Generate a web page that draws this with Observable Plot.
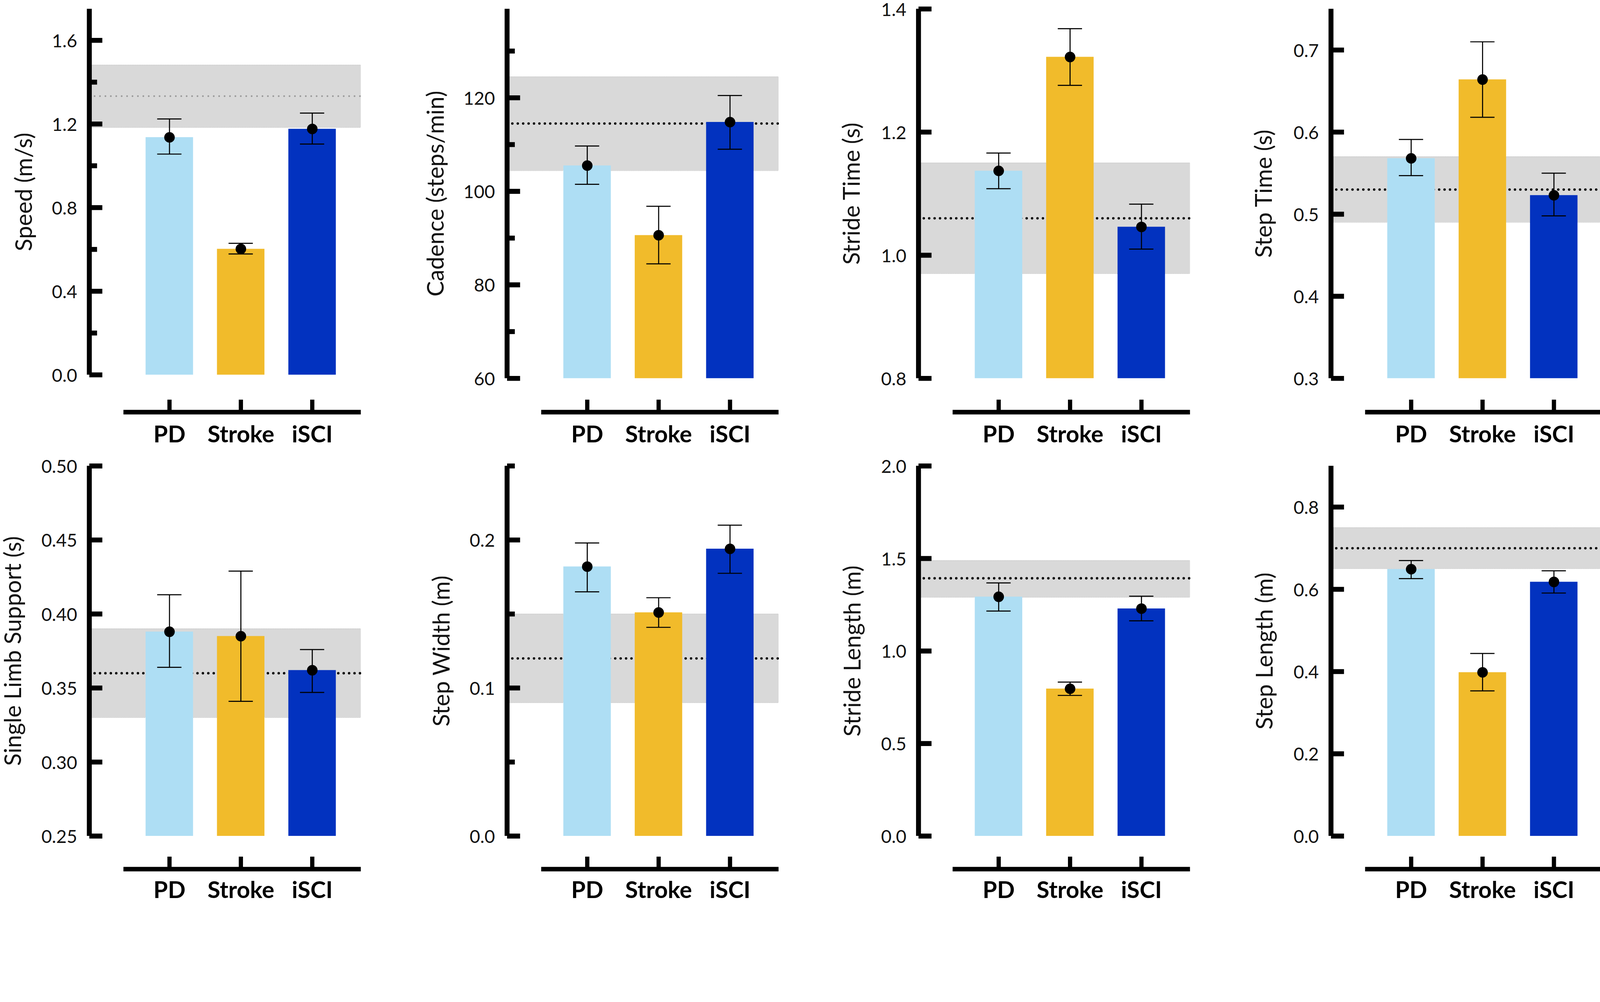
<!DOCTYPE html>
<html><head><meta charset="utf-8">
<script src="https://cdn.jsdelivr.net/npm/d3@7"></script>
<script src="https://cdn.jsdelivr.net/npm/@observablehq/plot@0.6"></script>
<style>
html,body{margin:0;padding:0;background:#fff;overflow:hidden;}
#wrap{position:relative;overflow:hidden;background:#fff;}
#c{position:absolute;left:0;top:0;width:4550px;height:2564px;overflow:hidden;background:#fff;transform-origin:0 0;}
#c svg{position:absolute;}
</style></head><body><div id="wrap"><div id="c"></div></div>
<script>
const groups = ["PD", "Stroke", "iSCI"];
const colors = ["#AEDEF4", "#F1BB2B", "#0232BF"];

// mean, lower / upper error-bar ends, normative band [lo, mean, hi]
const speedMean = [1.136, 0.602, 1.176];
const speedLo   = [1.056, 0.578, 1.104];
const speedHi   = [1.224, 0.629, 1.252];
const speedNorm = [1.183, 1.333, 1.482];

const cadenceMean = [105.5, 90.6, 114.8];
const cadenceLo   = [101.5, 84.5, 109.0];
const cadenceHi   = [109.7, 96.8, 120.5];
const cadenceNorm = [104.4, 114.5, 124.5];

const strideTimeMean = [1.137, 1.322, 1.046];
const strideTimeLo   = [1.108, 1.276, 1.010];
const strideTimeHi   = [1.166, 1.368, 1.083];
const strideTimeNorm = [0.970, 1.060, 1.150];

const stepTimeMean = [0.568, 0.664, 0.523];
const stepTimeLo   = [0.547, 0.618, 0.498];
const stepTimeHi   = [0.591, 0.710, 0.550];
const stepTimeNorm = [0.490, 0.530, 0.570];

const singleLimbMean = [0.388, 0.385, 0.362];
const singleLimbLo   = [0.364, 0.341, 0.347];
const singleLimbHi   = [0.413, 0.429, 0.376];
const singleLimbNorm = [0.330, 0.360, 0.390];

const stepWidthMean = [0.182, 0.151, 0.194];
const stepWidthLo   = [0.165, 0.141, 0.1775];
const stepWidthHi   = [0.198, 0.161, 0.210];
const stepWidthNorm = [0.090, 0.120, 0.150];

const strideLengthMean = [1.293, 0.796, 1.229];
const strideLengthLo   = [1.216, 0.760, 1.163];
const strideLengthHi   = [1.368, 0.832, 1.296];
const strideLengthNorm = [1.290, 1.393, 1.489];

const stepLengthMean = [0.649, 0.398, 0.618];
const stepLengthLo   = [0.626, 0.353, 0.591];
const stepLengthHi   = [0.670, 0.444, 0.645];
const stepLengthNorm = [0.650, 0.700, 0.750];

const titles = ["Speed (m/s)", "Cadence (steps/min)", "Stride Time (s)", "Step Time (s)",
  "Single Limb Support (s)", "Step Width (m)", "Stride Length (m)", "Step Length (m)"];
const domains = [[0, 1.75], [60, 139], [0.8, 1.4], [0.3, 0.75], [0.25, 0.5], [0, 0.25], [0, 2.0], [0, 0.9]];
const majorTicks = [
  [0, 0.4, 0.8, 1.2, 1.6], [60, 80, 100, 120], [0.8, 1.0, 1.2, 1.4], [0.3, 0.4, 0.5, 0.6, 0.7],
  [0.25, 0.30, 0.35, 0.40, 0.45, 0.50], [0, 0.1, 0.2], [0, 0.5, 1.0, 1.5, 2.0], [0, 0.2, 0.4, 0.6, 0.8]];
const minorTicks = [[0.2, 0.6, 1.0, 1.4], [70, 90, 110, 130], [], [], [], [0.05, 0.15, 0.25], [], []];
const tickDecimals = [1, 0, 1, 1, 2, 1, 1, 1];

const means = [speedMean, cadenceMean, strideTimeMean, stepTimeMean, singleLimbMean, stepWidthMean, strideLengthMean, stepLengthMean];
const los = [speedLo, cadenceLo, strideTimeLo, stepTimeLo, singleLimbLo, stepWidthLo, strideLengthLo, stepLengthLo];
const his = [speedHi, cadenceHi, strideTimeHi, stepTimeHi, singleLimbHi, stepWidthHi, strideLengthHi, stepLengthHi];
const norms = [speedNorm, cadenceNorm, strideTimeNorm, stepTimeNorm, singleLimbNorm, stepWidthNorm, strideLengthNorm, stepLengthNorm];

// layout (pixels, in a 4550 x 2564 frame)
const axisXpos = [254, 1442, 2612, 3785];
const titleOffset = [184, 202, 188, 190, 216, 185, 186, 187];
const ML = 250, FW = 772, MR = 10, H = 1282;
const FONT = "Lato, sans-serif";

// fit font sizes to the widths of the reference texts
const ctx = document.createElement("canvas").getContext("2d");
function fitSize(text, target, weight) {
  ctx.font = `${weight} 100px Lato`;
  return 100 * target / ctx.measureText(text).width;
}
const titleSize = Math.min(72, Math.max(50, fitSize("Cadence (steps/min)", 585, "normal")));
const tickSize = Math.min(62, Math.max(46, fitSize("1.6", 72, "normal")));
const catSize = Math.min(72, Math.max(52, fitSize("Stroke", 190, "bold")));

const wrap = document.getElementById("wrap");
const container = document.getElementById("c");
const s = Math.min(window.innerWidth / 4550, window.innerHeight / 2564);
container.style.transform = `scale(${s})`;
wrap.style.width = (4550 * s) + "px";
wrap.style.height = (2564 * s) + "px";

titles.forEach((title, i) => {
  const col = i % 4, row = Math.floor(i / 4);
  const marginTop = row ? 42 : 25;
  const bottomY = row ? 2376 - 1282 : (i === 0 ? 1065 : 1075);
  const lineY = row ? 2470 - 1282 : 1171;
  const xOff = lineY - bottomY;
  const dom = domains[i];
  const data = groups.map((g, j) => ({group: g, mean: means[i][j], lo: los[i][j], hi: his[i][j]}));
  const nrm = norms[i];
  const svg = Plot.plot({
    width: ML + FW + MR, height: H,
    marginLeft: ML, marginRight: MR, marginTop, marginBottom: H - bottomY,
    style: {fontFamily: FONT, overflow: "visible", background: "transparent", color: "black", maxWidth: "none"},
    x: {type: "band", domain: groups, range: [ML + 91, ML + 770], padding: 0.3366, axis: null},
    y: {domain: dom, axis: null},
    color: {domain: groups, range: colors},
    marks: [
      Plot.rect([0], {y1: nrm[0], y2: nrm[2], fill: "#D9D9D9"}),
      Plot.ruleY([nrm[0], nrm[2]], {stroke: "#b8b8b8", strokeWidth: 1.5, strokeDasharray: "2,2"}),
      Plot.ruleY([nrm[1]], {stroke: i === 0 ? "#9a9a9a" : "black", strokeWidth: i === 0 ? 5 : 7,
        strokeLinecap: "round", strokeDasharray: "0,15.4", insetLeft: 15}),
      Plot.barY(data, {x: "group", y1: dom[0], y2: "mean", fill: "group"}),
      Plot.ruleX(data, {x: "group", y1: "lo", y2: "hi", stroke: "black", strokeWidth: 3}),
      Plot.tickY(data, {x: "group", y: "lo", stroke: "black", strokeWidth: 3, inset: 33}),
      Plot.tickY(data, {x: "group", y: "hi", stroke: "black", strokeWidth: 3, inset: 33}),
      Plot.dot(data, {x: "group", y: "mean", r: 15, fill: "black"}),
      Plot.rect([0], {y1: dom[0], y2: dom[1], insetLeft: -7, insetRight: FW - 7, fill: "black"}),
      Plot.ruleY(majorTicks[i], {stroke: "black", strokeWidth: 14, insetRight: FW - 37}),
      Plot.ruleY(minorTicks[i], {stroke: "black", strokeWidth: 14, insetRight: FW - 22}),
      Plot.axisY(majorTicks[i], {anchor: "left", tickSize: 0, tickPadding: 35, label: null, dy: 3,
        tickFormat: d => d.toFixed(tickDecimals[i]), fontSize: tickSize, fill: "#111"}),
      Plot.text([title], {frameAnchor: "left", textAnchor: "middle", lineAnchor: "middle",
        dx: -titleOffset[i], rotate: -90, fontSize: titleSize, fill: "#111"}),
      Plot.ruleY([dom[0]], {dy: xOff, insetLeft: 97, stroke: "black", strokeWidth: 13}),
      Plot.axisX({anchor: "bottom", tickSize: -35, dy: xOff, tickPadding: row ? 70 : 74, strokeWidth: 12, label: null,
        fontSize: catSize, fontWeight: "bold", fill: "black"})
    ]
  });
  svg.style.left = (axisXpos[col] - ML) + "px";
  svg.style.top = (row * 1282) + "px";
  container.appendChild(svg);
});
</script>
</body></html>
